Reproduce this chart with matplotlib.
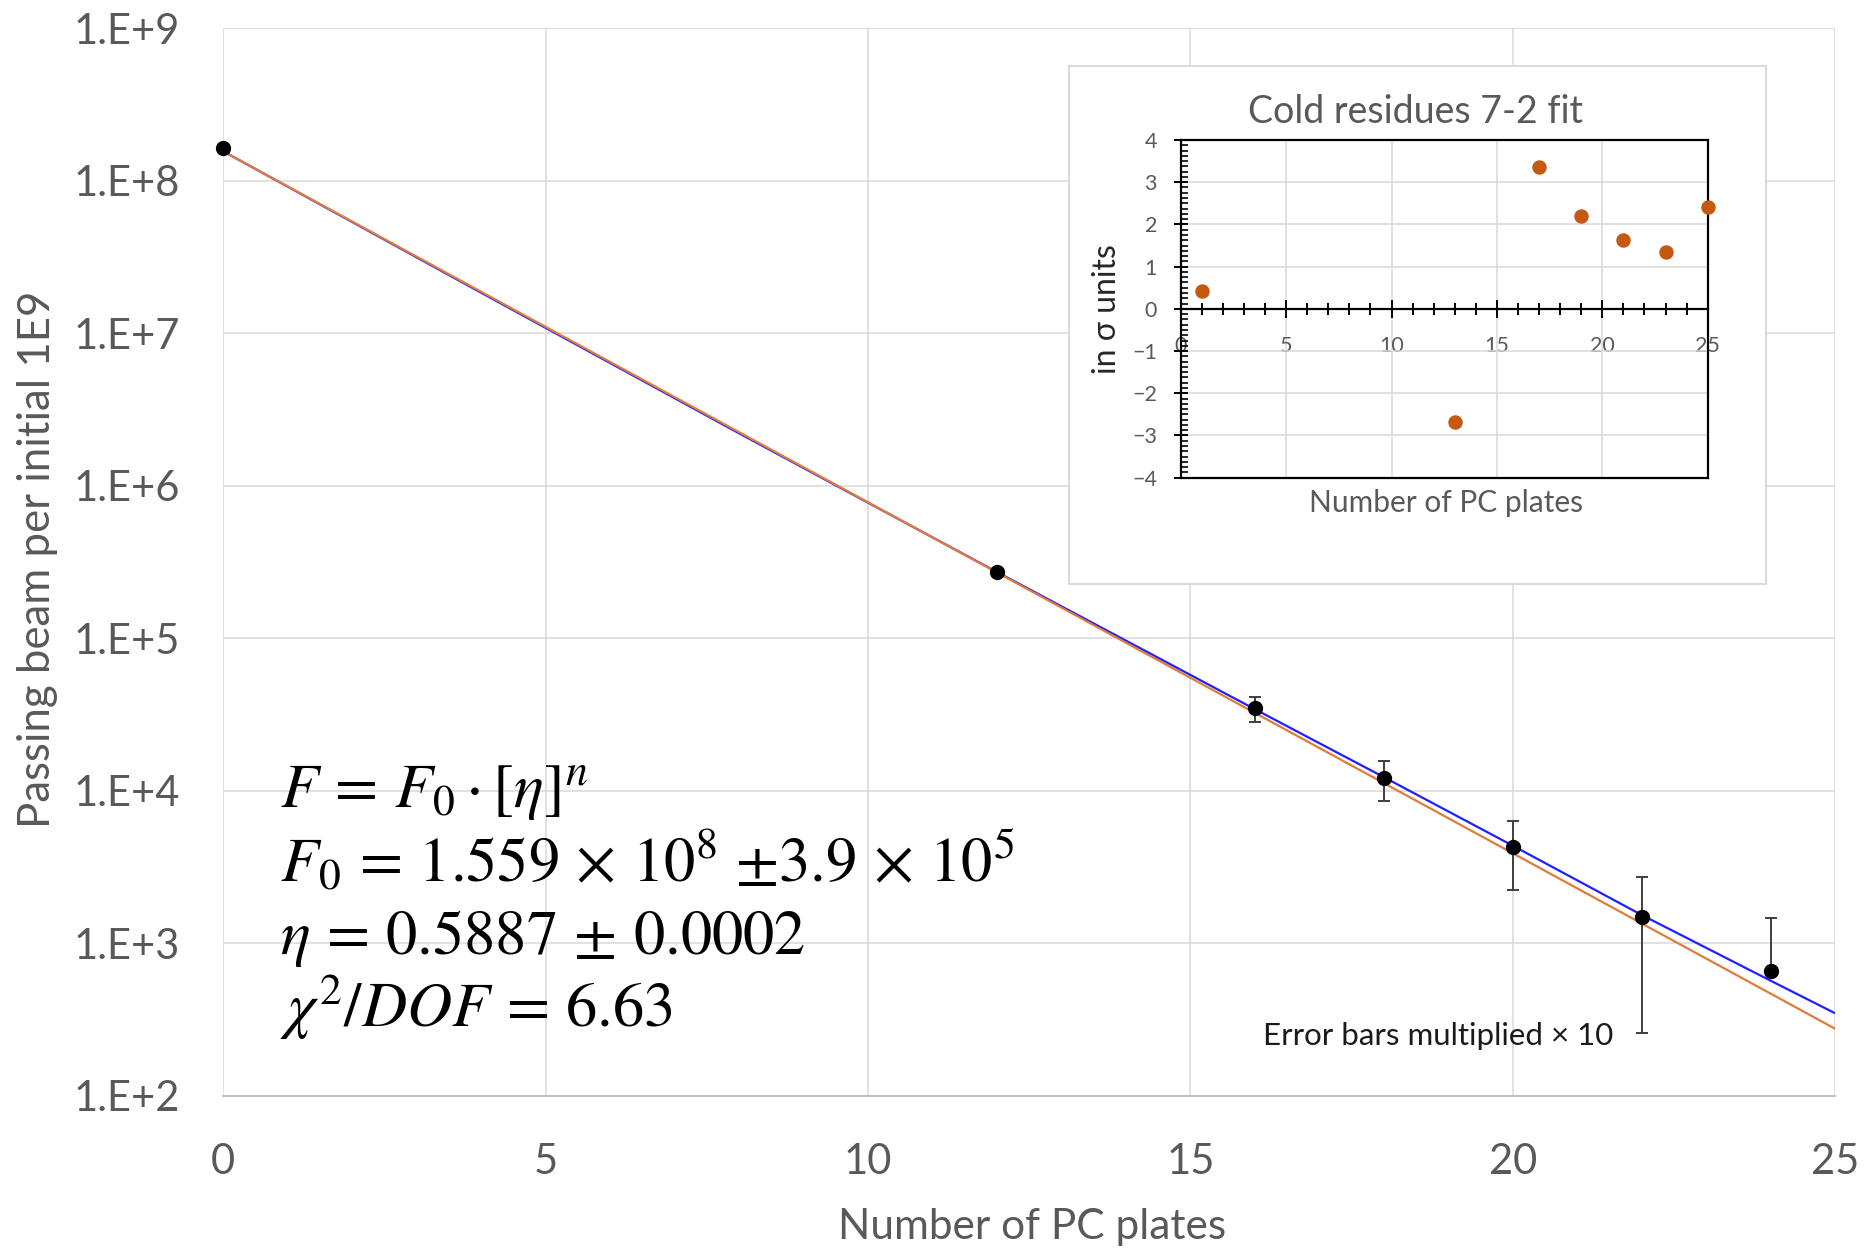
import numpy as np
import matplotlib
matplotlib.use("Agg")
import matplotlib.pyplot as plt
from matplotlib.ticker import FixedLocator, MultipleLocator, NullFormatter

plt.rcParams["font.family"] = ["Lato", "DejaVu Sans"]
plt.rcParams["mathtext.fontset"] = "stix"

# ── Datos ──────────────────────────────────────────────────────────────────────
n_plates = [0, 12, 16, 18, 20, 22, 24]
beam = [1.65e8, 2.73e5, 3.47e4, 1.22e4, 4.28e3, 1.49e3, 6.58e2]
beam_err10 = [0, 0, 6.3e3, 3.6e3, 2.06e3, 1.23e3, 8.1e2]   # errores ×10

# parámetros del ajuste (texto de la figura)
F0 = 1.559e8
ETA = 0.5887

# curva azul
blue_n = [0, 4, 8, 12, 14, 16, 18, 20, 22, 24, 25]
blue_f = [1.56e8, 1.845e7, 2.21e6, 2.72e5, 9.66e4, 3.43e4, 1.23e4,
          4.37e3, 1.535e3, 5.69e2, 3.48e2]

# residuos del ajuste en unidades de sigma
res_n = [1, 13, 17, 19, 21, 23, 25]
res_sigma = [0.43, -2.69, 3.37, 2.19, 1.62, 1.34, 2.41]

ytick_vals = [1e2, 1e3, 1e4, 1e5, 1e6, 1e7, 1e8, 1e9]
ytick_labels = ["1.E+2", "1.E+3", "1.E+4", "1.E+5", "1.E+6", "1.E+7", "1.E+8", "1.E+9"]
xtick_vals = [0, 5, 10, 15, 20, 25]

GRAY_TXT = "#595959"
GRID = "#d9d9d9"
BLUE = "#1f1fff"
ORANGE = "#e07b39"
RES_ORANGE = "#c65911"

W, H = 1876, 1250
fig = plt.figure(figsize=(W / 100, H / 100), dpi=100)

# ── Gráfico principal ─────────────────────────────────────────────────────────
ax = fig.add_axes([223.3 / W, 1 - 1095.8 / H, (1835 - 223.3) / W, (1095.8 - 28.3) / H])
ax.set_yscale("log")
ax.set_xlim(0, 25)
ax.set_ylim(1e2, 1e9)
ax.yaxis.set_major_locator(FixedLocator(ytick_vals))
ax.set_yticklabels(ytick_labels)
ax.yaxis.set_minor_locator(FixedLocator([]))
ax.yaxis.set_minor_formatter(NullFormatter())
ax.set_xticks(xtick_vals)
ax.set_xticklabels([str(v) for v in xtick_vals])
ax.tick_params(axis="both", length=0, labelsize=30, labelcolor=GRAY_TXT)
ax.tick_params(axis="y", pad=31)
ax.tick_params(axis="x", pad=34)
ax.grid(True, color=GRID, linewidth=1.1)
for s in ["top", "right", "left"]:
    ax.spines[s].set_visible(False)
ax.spines["bottom"].set_color("#bfbfbf")
ax.spines["bottom"].set_linewidth(1.4)
ax.set_axisbelow(True)

# curvas
ax.plot(blue_n, blue_f, color=BLUE, linewidth=1.6, zorder=3)
n_fit = np.linspace(0, 25, 200)
ax.plot(n_fit, F0 * ETA ** n_fit, color=ORANGE, linewidth=1.6, zorder=4)

# barras de error (sin rama inferior si queda por debajo de cero)
n_arr = np.array(n_plates, dtype=float)
b_arr = np.array(beam)
e_arr = np.array(beam_err10)
has_err = e_arr > 0
hi = b_arr + e_arr
lo = b_arr - e_arr
has_lo = has_err & (lo > 0)
ax.vlines(n_arr[has_err], np.where(has_lo, lo, b_arr)[has_err], hi[has_err],
          color="#3f3f3f", linewidth=1.4, zorder=5)
ax.plot(n_arr[has_err], hi[has_err], linestyle="none", marker="_", markersize=9,
        markeredgewidth=1.4, color="#3f3f3f", zorder=5)
ax.plot(n_arr[has_lo], lo[has_lo], linestyle="none", marker="_", markersize=9,
        markeredgewidth=1.4, color="#3f3f3f", zorder=5)
ax.plot(n_plates, beam, linestyle="none", marker="o", markersize=10,
        color="black", zorder=6, clip_on=False)

# fórmula del ajuste
formula = [
    r"$F\,=\,F_0 \cdot [\eta]^n$",
    r"$F_0\,=\,1.559\,\times\,10^8\ {\pm}3.9\,\times\,10^5$",
    r"$\eta\,=\,0.5887\,\pm\,0.0002$",
    r"$\chi^2/DOF\,=\,6.63$",
]
for i, line in enumerate(formula):
    fig.text(280 / W, 1 - (808 + i * 73) / H, line, fontsize=45,
             ha="left", va="baseline", color="black")

fig.text(1263 / W, 1 - 1036 / H, "Error bars multiplied \u00d7 10", fontsize=22.5,
         ha="left", va="center", color="#1a1a1a")

fig.text(1032 / W, 1 - 1227 / H, "Number of PC plates", fontsize=30.5,
         ha="center", va="center", color=GRAY_TXT)
fig.text(38 / W, 1 - 559 / H, "Passing beam per initial 1E9", fontsize=31.5,
         ha="center", va="center", rotation=90, color=GRAY_TXT)

# ── Recuadro de residuos ──────────────────────────────────────────────────────
frame = fig.add_axes([1069 / W, 1 - 584 / H, (1766 - 1069) / W, (584 - 66) / H])
frame.set_xticks([])
frame.set_yticks([])
frame.set_facecolor("white")
for s in frame.spines.values():
    s.set_color(GRID)
    s.set_linewidth(1.4)

axi = fig.add_axes([1180.7 / W, 1 - 477.7 / H, (1707.7 - 1180.7) / W, (477.7 - 140) / H])
axi.set_xlim(0, 25)
axi.set_ylim(-4, 4)
axi.xaxis.set_major_locator(MultipleLocator(5))
axi.xaxis.set_minor_locator(MultipleLocator(1))
axi.yaxis.set_major_locator(MultipleLocator(1))
axi.yaxis.set_minor_locator(MultipleLocator(0.125))
axi.grid(True, which="major", color=GRID, linewidth=1.1)
axi.set_axisbelow(True)
for s in axi.spines.values():
    s.set_color("black")
    s.set_linewidth(1.6)
axi.spines["bottom"].set_position(("data", 0))
axi.axhline(-4, color="black", linewidth=1.6, clip_on=False, zorder=2.5)
axi.tick_params(axis="x", which="major", direction="inout", length=13, width=1.4,
                pad=13, labelsize=15.5, labelcolor=GRAY_TXT)
axi.tick_params(axis="x", which="minor", direction="inout", length=9, width=1.4)
axi.tick_params(axis="y", which="major", direction="inout", length=10, width=1.4,
                pad=12, labelsize=15.5, labelcolor=GRAY_TXT)
axi.tick_params(axis="y", which="minor", direction="in", length=5, width=1.2)

axi.plot(res_n, res_sigma, linestyle="none", marker="o", markersize=9.4,
         color=RES_ORANGE, clip_on=False, zorder=4)

fig.text(1415 / W, 1 - 112 / H, "Cold residues 7-2 fit", fontsize=27,
         ha="center", va="center", color=GRAY_TXT)
fig.text(1446 / W, 1 - 503 / H, "Number of PC plates", fontsize=21.5,
         ha="center", va="center", color=GRAY_TXT)
fig.text(1107 / W, 1 - 309 / H, "in \u03c3 units", fontsize=23,
         ha="center", va="center", rotation=90, color="#262626")

fig.savefig("out.png", dpi=100)
